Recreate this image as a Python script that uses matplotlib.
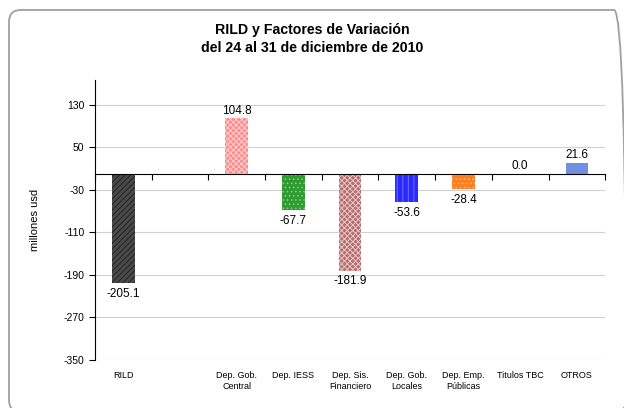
import numpy as np
import matplotlib.pyplot as plt
from matplotlib.patches import FancyBboxPatch
from matplotlib.transforms import blended_transform_factory, IdentityTransform

plt.rcParams['font.family'] = ['Liberation Sans', 'DejaVu Sans']
plt.rcParams['hatch.linewidth'] = 0.7
plt.rcParams['axes.unicode_minus'] = False

categorias = ["RILD", "", "Dep. Gob.\nCentral", "Dep. IESS", "Dep. Sis.\nFinanciero",
              "Dep. Gob.\nLocales", "Dep. Emp.\nPúblicas", "Titulos TBC", "OTROS"]
valores = [-205.1, None, 104.8, -67.7, -181.9, -53.6, -28.4, 0.0, 21.6]
colores = ["#4a4a4a", None, "#ff8a8a", "#2f9a2f", "#b56c6c", "#2a2aff", "#ff7f1e", "#7090e0", "#7090e0"]
tramas = ["//////", None, "xxxxxx", "....", "xxxxxx", "|||", "....", None, None]
color_trama = ["#222222", None, "#ffd0d0", "#7fd07f", "#e8c8c8", "#7070ff", "#ffb070", None, None]
yticks = [-350, -270, -190, -110, -30, 50, 130]

fig = plt.figure(figsize=(6.24, 4.08), dpi=100)
# marco redondeado (en pixeles)
fig.patches.append(FancyBboxPatch((9, -4), 617, 402, boxstyle="round,pad=0,rounding_size=12",
                                  transform=IdentityTransform(), fill=False, edgecolor="#a0a0a0", lw=1.3))
ax = fig.add_axes([0.152, 0.118, 0.818, 0.686])

x = np.arange(len(categorias))
for i, v in enumerate(valores):
    if v is None:
        continue
    if tramas[i]:
        ax.bar(x[i], v, width=0.4, color=colores[i], hatch=tramas[i], edgecolor=color_trama[i], lw=0, zorder=3)
    else:
        ax.bar(x[i], v, width=0.4, color=colores[i], lw=0, zorder=3)
    if v >= 0:
        ax.text(x[i], v + 3, f"{v:.1f}", ha="center", va="bottom", fontsize=8.5)
    else:
        ax.text(x[i], v - 9, f"{v:.1f}", ha="center", va="top", fontsize=8.5)

ax.set_xlim(-0.5, len(categorias) - 0.5)
ax.set_ylim(-350, 177)
ax.set_yticks(yticks)
ax.tick_params(axis="y", labelsize=7.5, length=4, width=0.8)
ax.yaxis.grid(True, color="#d0d0d0", lw=0.8, zorder=0)
ax.set_axisbelow(True)

ax.spines["top"].set_visible(False)
ax.spines["right"].set_visible(False)
ax.spines["bottom"].set_position(("data", 0))
ax.spines["bottom"].set_zorder(4)
ax.set_xticks(np.arange(-0.5, len(categorias), 1.0))
ax.set_xticklabels([])
ax.tick_params(axis="x", length=4, width=0.8, direction="out")

tr = blended_transform_factory(ax.transData, ax.transAxes)
for i, c in enumerate(categorias):
    ax.text(x[i], -0.04, c, transform=tr, ha="center", va="top", fontsize=6.5, linespacing=1.3)

ax.set_ylabel("millones usd", fontsize=8, labelpad=17)
fig.text(0.5, 0.905, "RILD y Factores de Variación\ndel 24 al 31 de diciembre de 2010",
         ha="center", va="center", fontsize=10.2, fontweight="bold", linespacing=1.35)

fig.savefig("out.png", dpi=100)
